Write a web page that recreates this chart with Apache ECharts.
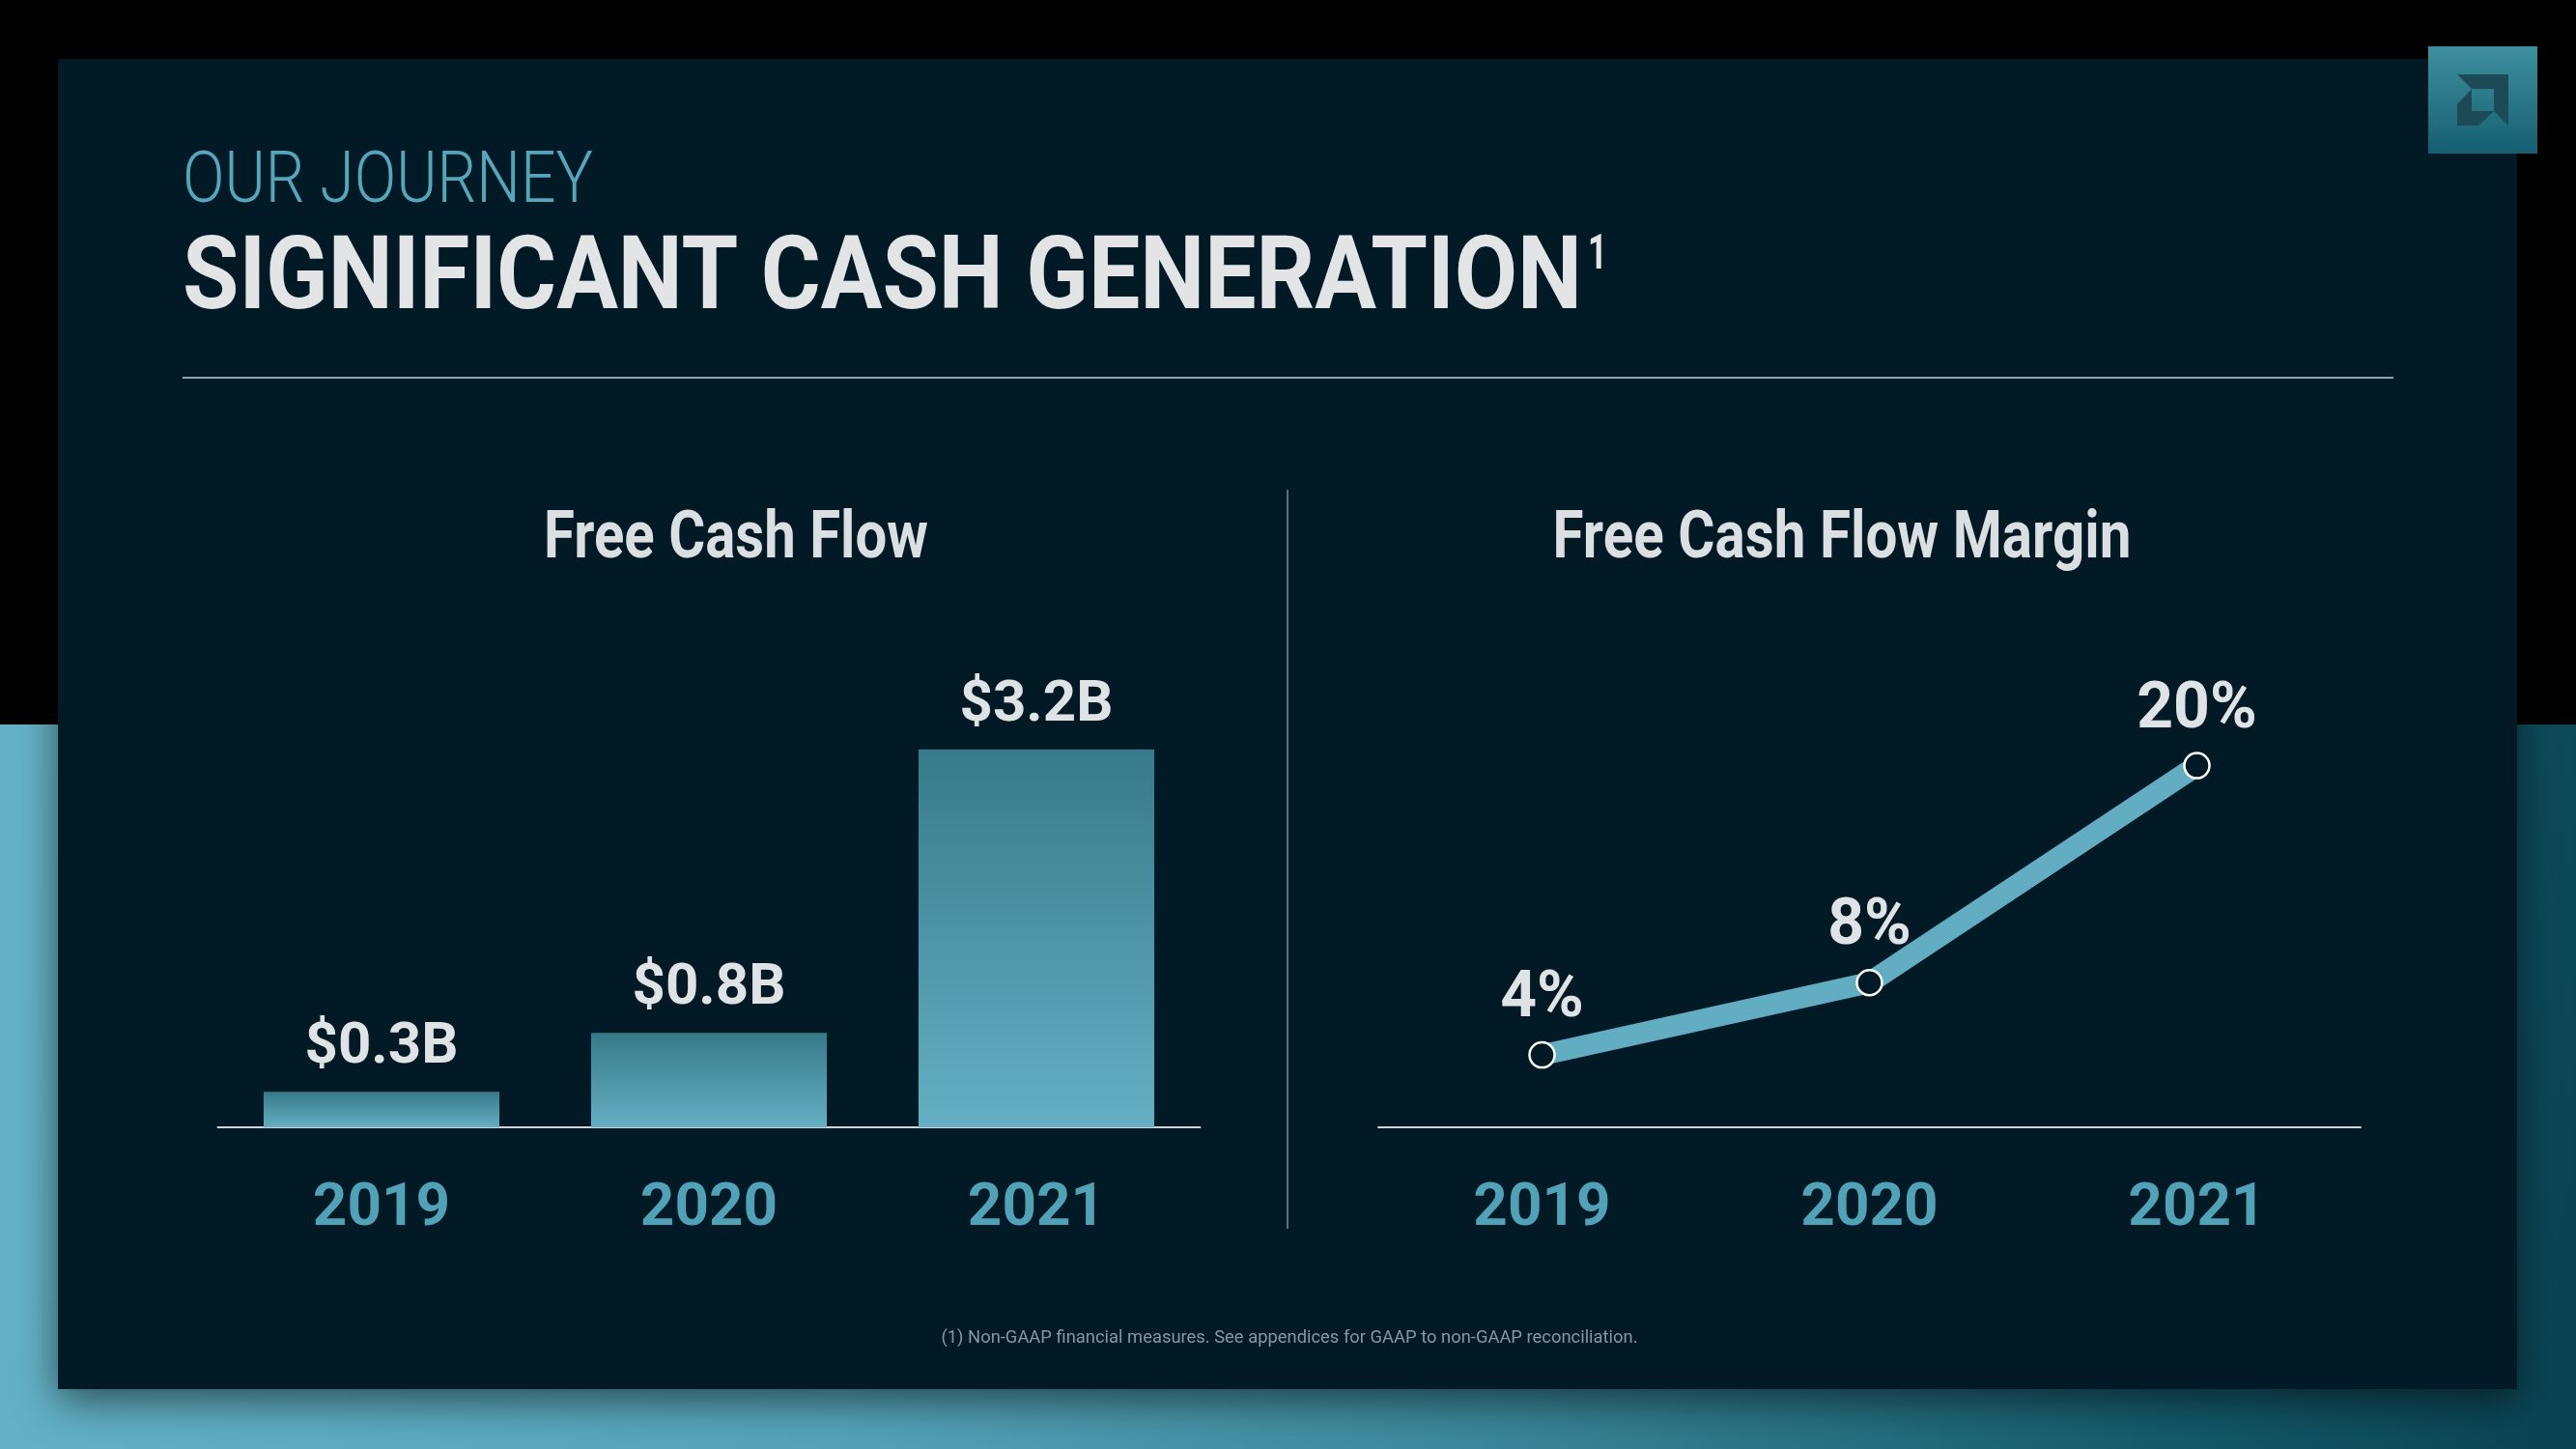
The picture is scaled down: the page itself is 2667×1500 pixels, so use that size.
<!DOCTYPE html>
<html>
<head>
<meta charset="utf-8">
<script src="https://cdn.jsdelivr.net/npm/echarts@6/dist/echarts.min.js"></script>
<style>
html,body{margin:0;padding:0;background:#000;}
#main{width:2667px;height:1500px;}
</style>
</head>
<body>
<div id="main"></div>
<script>
// ---- data ----
const years = ['2019', '2020', '2021'];
const fcfValues = [0.3, 0.8, 3.2];          // $B
const fcfLabels = ['$0.3B', '$0.8B', '$3.2B'];
const marginValues = [4, 8, 20];            // %
const marginLabels = ['4%', '8%', '20%'];

const kicker = 'OUR JOURNEY';
const title = 'SIGNIFICANT CASH GENERATION';
const titleSup = '1';
const leftTitle = 'Free Cash Flow';
const rightTitle = 'Free Cash Flow Margin';
const footnote = '(1) Non-GAAP financial measures. See appendices for GAAP to non-GAAP reconciliation.';

// ---- helpers ----
const FAM = 'Roboto, "Liberation Sans", sans-serif';
const mctx = document.createElement('canvas').getContext('2d');
function fit(text, font, target) {
  mctx.font = font;
  return target / mctx.measureText(text).width;
}
function txt(text, x, y, font, fill, align, targetW, z) {
  return {
    type: 'text', x: x, y: y, z: z || 5,
    scaleX: targetW ? fit(text, font, targetW) : 1,
    style: {
      text: text, font: font, fill: fill,
      textAlign: align, align: align,
      textVerticalAlign: 'middle', verticalAlign: 'middle'
    }
  };
}

const chart = echarts.init(document.getElementById('main'), null, {renderer: 'canvas'});

const fKicker = '300 74px Roboto, "Open Sans", sans-serif';
const fTitle = 'bold 106px ' + FAM;
const fSup = 'bold 50px ' + FAM;
const fSub = 'bold 68px ' + FAM;
const fFoot = '18px ' + FAM;

const graphics = [
  // backdrop
  {type: 'rect', z: -20, shape: {x: 0, y: 0, width: 2667, height: 750}, style: {fill: '#000000'}},
  {type: 'rect', z: -20, shape: {x: 0, y: 750, width: 2667, height: 750},
    style: {fill: new echarts.graphic.LinearGradient(0, 0.2, 1, 0.8, [
      {offset: 0, color: '#65b3c7'},
      {offset: 0.35, color: '#55a3b8'},
      {offset: 0.6, color: '#3a8698'},
      {offset: 0.85, color: '#145a6b'},
      {offset: 1, color: '#0a4352'}
    ])}},
  // panel
  {type: 'rect', z: -10, shape: {x: 60, y: 61, width: 2546, height: 1377},
    style: {fill: '#021926', shadowBlur: 40, shadowColor: 'rgba(0,0,0,0.55)', shadowOffsetY: 12}},
  // logo
  {type: 'rect', z: -5, shape: {x: 2514, y: 48, width: 113, height: 111},
    style: {fill: new echarts.graphic.LinearGradient(0, 0, 0, 1, [
      {offset: 0, color: '#3f8f9e'}, {offset: 1, color: '#145f71'}
    ])}},
  {type: 'polygon', z: -4, shape: {points: [[2544, 77], [2597, 77], [2597, 130], [2582, 115], [2582, 92], [2559, 92]]},
    style: {fill: '#1d4a57'}},
  {type: 'polygon', z: -4, shape: {points: [[2559, 92], [2544, 108], [2544, 130], [2566, 130], [2582, 115], [2559, 115]]},
    style: {fill: '#1d4a57'}},
  // divider lines
  {type: 'line', z: -3, shape: {x1: 189, y1: 391, x2: 2478, y2: 391}, style: {stroke: '#8fa4ad', lineWidth: 2}},
  {type: 'line', z: -3, shape: {x1: 1333, y1: 507, x2: 1333, y2: 1272}, style: {stroke: '#5d717b', lineWidth: 2}},
  // texts
  txt(kicker, 189, 190, fKicker, '#56a6bb', 'left', 425),
  txt(title, 189, 292, fTitle, '#e2e4e6', 'left', 1449),
  txt(titleSup, 1644, 265, fSup, '#e2e4e6', 'left', 20),
  txt(leftTitle, 762, 560, fSub, '#dcdfe2', 'center', 398),
  txt(rightTitle, 1907, 560, fSub, '#dcdfe2', 'center', 599),
  txt(footnote, 1335, 1385, fFoot, '#8797a1', 'center', 721)
];

const axisLabelStyle = {
  color: '#52a2b7', fontFamily: FAM, fontWeight: 'bold', fontSize: 62, margin: 54
};

chart.setOption({
  animation: false,
  backgroundColor: '#000',
  graphic: {elements: graphics},
  grid: [
    {left: 225.5, width: 1017, top: 678, height: 489},
    {left: 1427, width: 1017, top: 699, height: 468}
  ],
  xAxis: [
    {type: 'category', gridIndex: 0, data: years,
      axisLine: {lineStyle: {color: '#cdd6da', width: 2}}, axisTick: {show: false},
      axisLabel: axisLabelStyle, splitLine: {show: false}},
    {type: 'category', gridIndex: 1, data: years,
      axisLine: {lineStyle: {color: '#cdd6da', width: 2}}, axisTick: {show: false},
      axisLabel: axisLabelStyle, splitLine: {show: false}}
  ],
  yAxis: [
    {type: 'value', gridIndex: 0, min: 0, max: 4, show: false, splitLine: {show: false}},
    {type: 'value', gridIndex: 1, min: 0, max: 25, show: false, splitLine: {show: false}}
  ],
  series: [
    {
      type: 'bar', xAxisIndex: 0, yAxisIndex: 0, data: fcfValues,
      barCategoryGap: '28%',
      itemStyle: {color: new echarts.graphic.LinearGradient(0, 0, 0, 1, [
        {offset: 0, color: '#377a8a'}, {offset: 1, color: '#64afc3'}
      ])},
      label: {
        show: true, position: 'top', distance: 15,
        formatter: p => fcfLabels[p.dataIndex],
        color: '#e0e3e5', fontFamily: FAM, fontWeight: 'bold', fontSize: 60
      }
    },
    {
      type: 'line', xAxisIndex: 1, yAxisIndex: 1, data: marginValues,
      lineStyle: {color: '#62adc1', width: 22},
      symbol: 'circle', symbolSize: 26,
      itemStyle: {color: '#021926', borderColor: '#ffffff', borderWidth: 2.5},
      label: {
        show: true, position: 'top', distance: 9,
        formatter: p => marginLabels[p.dataIndex],
        color: '#e0e3e5', fontFamily: FAM, fontWeight: 'bold', fontSize: 66
      }
    }
  ]
});
</script>
</body>
</html>
